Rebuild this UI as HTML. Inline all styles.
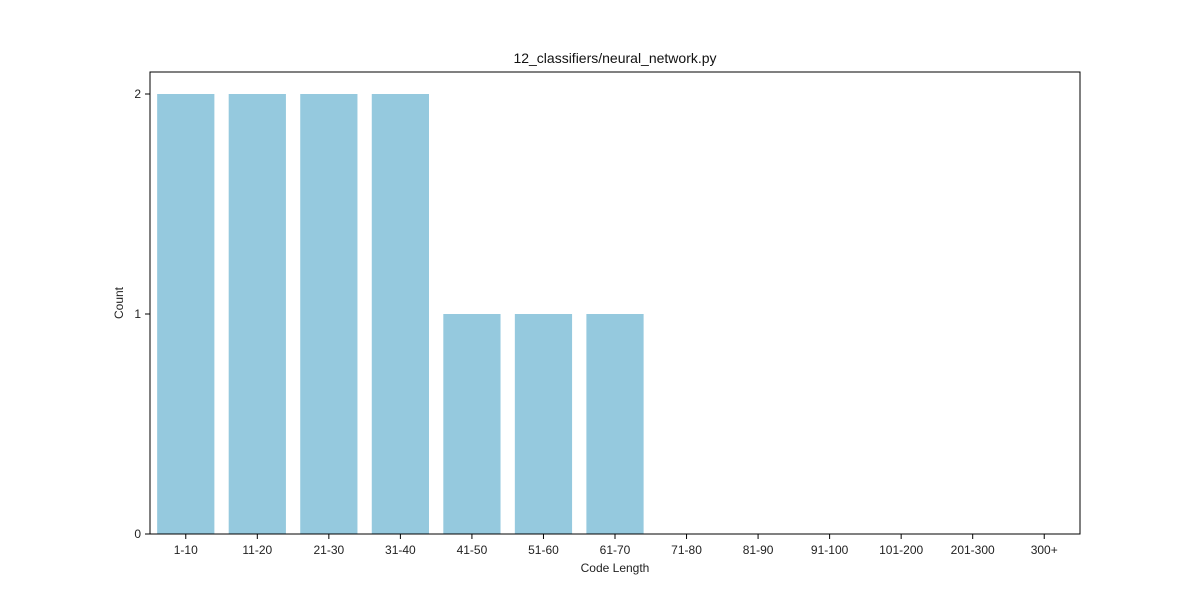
<!DOCTYPE html>
<html><head><meta charset="utf-8"><style>
body{margin:0;background:#fff;}
svg{display:block;font-family:"Liberation Sans",sans-serif;}
</style></head><body>
<svg id="chart" width="1200" height="600"></svg>
<script>
const categories=["1-10","11-20","21-30","31-40","41-50","51-60","61-70","71-80","81-90","91-100","101-200","201-300","300+"];
const counts=[2,2,2,2,1,1,1,0,0,0,0,0,0];
const yTicks=[0,1,2];
const L=150,R=1080,T=72,B=534,yMax=2.1;
const svg=document.getElementById('chart');
const NS='http://www.w3.org/2000/svg';
const slot=(R-L)/categories.length;
const xc=i=>L+slot*(i+0.5);
const y=v=>B-(B-T)*v/yMax;
function mk(tag,attrs,parent){const e=document.createElementNS(NS,tag);for(const k in attrs)e.setAttribute(k,attrs[k]);(parent||svg).appendChild(e);return e;}
counts.forEach((v,i)=>{
  const r=mk('rect',{x:xc(i)-slot*0.4,y:y(v),width:slot*0.8,height:B-y(v),fill:'#95c9de'});
  
  
});
const frame=mk('rect',{x:L,y:T,width:R-L,height:B-T,fill:'none',stroke:'#000','stroke-width':1});


categories.forEach((c,i)=>{
  mk('line',{x1:xc(i),x2:xc(i),y1:B,y2:B+5,stroke:'#000'});
  const t=mk('text',{x:xc(i),y:B+20,'text-anchor':'middle','font-size':12,fill:'#222'});
  t.textContent=c;
  
  
});
yTicks.forEach(v=>{
  mk('line',{x1:L-5,x2:L,y1:y(v),y2:y(v),stroke:'#000'});
  const t=mk('text',{x:L-9,y:y(v)+4,'text-anchor':'end','font-size':12,fill:'#222'});
  t.textContent=v;
  
  
});
const title=mk('text',{x:(L+R)/2,y:63,'text-anchor':'middle','font-size':14,fill:'#111'});
title.textContent='12_classifiers/neural_network.py';


const xt=mk('text',{x:(L+R)/2,y:572,'text-anchor':'middle','font-size':12,fill:'#222'});
xt.textContent='Code Length';


const yt=mk('text',{x:123,y:(T+B)/2,'text-anchor':'middle','font-size':12,fill:'#222',transform:'rotate(-90 123 '+((T+B)/2)+')'});
yt.textContent='Count';


</script>
</body></html>
